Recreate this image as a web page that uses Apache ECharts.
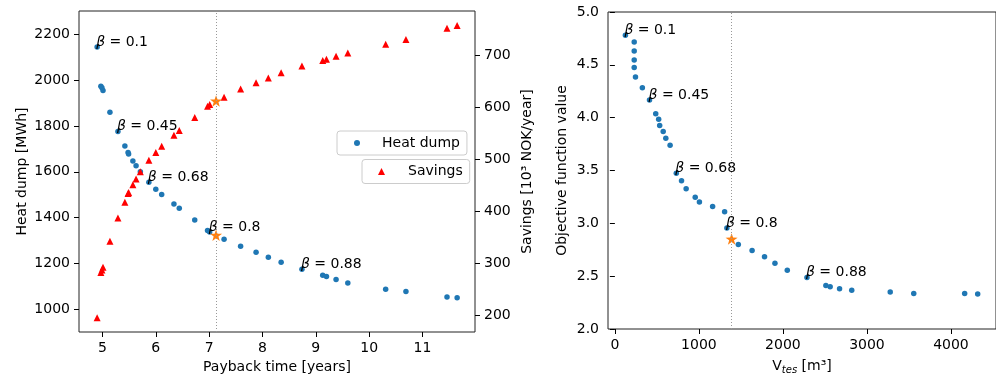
<!DOCTYPE html>
<html>
<head>
<meta charset="utf-8">
<script src="https://cdn.jsdelivr.net/npm/echarts@6/dist/echarts.min.js"></script>
<style>
  html, body { margin: 0; padding: 0; background: #fff; }
  #chart { width: 996px; height: 380px; }
</style>
</head>
<body>
<div id="chart"></div>
<script>
// left plot: payback time vs heat dump / savings
var paybackTime = [4.90, 4.97, 4.99, 5.01, 5.14, 5.29, 5.42, 5.48, 5.49, 5.57, 5.63, 5.71, 5.87, 6.00, 6.11, 6.34, 6.44, 6.73, 6.97, 7.01,
                   7.28, 7.59, 7.88, 8.11, 8.35, 8.74, 9.13, 9.20, 9.38, 9.60, 10.31, 10.69, 11.46, 11.65];
var heatDump = [2144, 1973, 1967, 1955, 1860, 1776, 1713, 1684, 1678, 1647, 1627, 1600, 1555, 1524, 1501, 1460, 1441, 1390, 1344, 1338,
                1306, 1276, 1250, 1228, 1206, 1176, 1149, 1144, 1131, 1116, 1088, 1078, 1055, 1051];
var savings = [196, 283, 288, 293, 343, 388, 418, 435, 437, 452, 463, 477, 499, 514, 526, 547, 556, 581, 603, 606,
               620, 636, 648, 657, 667, 680, 691, 693, 699, 705, 722, 731, 753, 758];
var chosenPayback = 7.13;
var chosenHeat = 1324;
var chosenSavings = 613;

// right plot: tank volume vs objective
var volume = [125, 230, 230, 230, 230, 245, 327, 412, 486, 521, 533, 575, 606, 657, 731, 793, 848, 956, 1006, 1163,
              1306, 1333, 1469, 1633, 1781, 1905, 2052, 2286, 2511, 2562, 2674, 2819, 3277, 3557, 4163, 4318];
var objective = [4.78, 4.715, 4.63, 4.546, 4.475, 4.384, 4.284, 4.168, 4.037, 3.984, 3.925, 3.868, 3.806, 3.740, 3.475, 3.403, 3.327, 3.247, 3.203, 3.159,
                 3.109, 2.956, 2.80, 2.743, 2.684, 2.622, 2.556, 2.487, 2.412, 2.399, 2.381, 2.366, 2.350, 2.337, 2.337, 2.331];
var chosenVolume = 1389;
var chosenObjective = 2.852;

var betaNames = ['0.1', '0.45', '0.68', '0.8', '0.88'];
var betaIdxLeft = [0, 5, 12, 19, 25];
var betaIdxRight = [0, 7, 14, 21, 27];

var xTicksLeft = [5, 6, 7, 8, 9, 10, 11];
var yTicksHeat = [1000, 1200, 1400, 1600, 1800, 2000, 2200];
var yTicksSavings = [200, 300, 400, 500, 600, 700];
var xTicksRight = [0, 1000, 2000, 3000, 4000];

var FONT = 'DejaVu Sans';
var STAR = 'path://M0,-10 L2.35,-3.24 L9.51,-3.09 L3.8,1.24 L5.88,8.09 L0,4 L-5.88,8.09 L-3.8,1.24 L-9.51,-3.09 L-2.35,-3.24 Z';

function pairs(xs, ys, idx) {
    return xs.map(function (x, i) {
        var item = { value: [x, ys[i]] };
        var k = idx ? idx.indexOf(i) : -1;
        if (k >= 0) {
            item.label = {
                show: true,
                formatter: '{b|β} = ' + betaNames[k],
                position: ['50%', '50%'],
                align: 'left',
                verticalAlign: 'middle',
                offset: [-1, -5],
                color: '#000',
                fontSize: 14,
                fontFamily: FONT,
                rich: { b: { fontStyle: 'italic', fontSize: 14, fontFamily: FONT, color: '#000' } }
            };
        }
        return item;
    });
}

function axisBase(min, max, ticks, pos, gridIndex) {
    var ax = {
        type: 'value',
        gridIndex: gridIndex,
        position: pos,
        min: min,
        max: max,
        splitLine: { show: false },
        axisLine: { show: false },
        axisTick: { show: true, inside: false, length: 5, lineStyle: { color: '#000', width: 1 } },
        axisLabel: { color: '#000', fontSize: 14, fontFamily: FONT, margin: 9,
                     formatter: function (v) { return String(v); } },
        nameLocation: 'middle',
        nameTextStyle: { color: '#000', fontSize: 14, fontFamily: FONT }
    };
    if (ticks) {
        ax.axisTick.customValues = ticks;
        ax.axisLabel.customValues = ticks;
    }
    return ax;
}

var xLeft = axisBase(4.56, 11.985, xTicksLeft, 'bottom', 0);
xLeft.name = 'Payback time [years]';
xLeft.nameGap = 28;

var yHeat = axisBase(902, 2301, yTicksHeat, 'left', 0);
yHeat.name = 'Heat dump [MWh]';
yHeat.nameGap = 50;

var ySav = axisBase(168.5, 786, yTicksSavings, 'right', 0);
ySav.name = 'Savings [10³ NOK/year]';
ySav.nameGap = 45;
ySav.nameRotate = 90;

var xRight = axisBase(-82, 4536, xTicksRight, 'bottom', 1);
xRight.name = 'V{s|tes} [m³]';
xRight.nameGap = 28;
xRight.nameTextStyle.rich = { s: { fontSize: 10, fontStyle: 'italic', fontFamily: FONT, color: '#000', padding: [8, 0, 0, 0] } };

var yObj = axisBase(2, 5, null, 'left', 1);
yObj.interval = 0.5;
yObj.axisLabel.formatter = function (v) { return v.toFixed(1); };
yObj.name = 'Objective function value';
yObj.nameGap = 39;

function vline(x) {
    return {
        silent: true,
        symbol: 'none',
        label: { show: false },
        lineStyle: { type: [1, 2], color: '#999', width: 1 },
        data: [{ xAxis: x }]
    };
}

var chart = echarts.init(document.getElementById('chart'));
chart.setOption({
    animation: false,
    backgroundColor: '#fff',
    grid: [
        { left: 79, top: 11, width: 396, height: 321, show: true, borderColor: '#222', borderWidth: 1 },
        { left: 608, top: 12, width: 396, height: 320, show: true, borderColor: '#222', borderWidth: 1 }
    ],
    legend: [
        {
            data: ['Heat dump'], left: 337, top: 131, padding: [5, 7, 5, 17],
            itemWidth: 6, itemHeight: 6,
            borderColor: '#ccc', borderWidth: 1, borderRadius: 3, backgroundColor: 'rgba(255,255,255,0.8)',
            textStyle: { color: '#000', fontSize: 14, fontFamily: FONT, rich: { p: { padding: [0, 0, 0, 17], fontSize: 14, fontFamily: FONT, color: '#000' } } },
            formatter: function (n) { return '{p|' + n + '}'; }
        },
        {
            data: ['Savings'], left: 362, top: 159.5, padding: [5, 7, 5, 16],
            itemWidth: 7, itemHeight: 7,
            borderColor: '#ccc', borderWidth: 1, borderRadius: 3, backgroundColor: 'rgba(255,255,255,0.8)',
            textStyle: { color: '#000', fontSize: 14, fontFamily: FONT, rich: { p: { padding: [0, 0, 0, 18], fontSize: 14, fontFamily: FONT, color: '#000' } } },
            formatter: function (n) { return '{p|' + n + '}'; }
        }
    ],
    xAxis: [xLeft, xRight],
    yAxis: [yHeat, ySav, yObj],
    series: [
        {
            name: 'Heat dump', type: 'scatter', xAxisIndex: 0, yAxisIndex: 0,
            symbol: 'circle', symbolSize: 5.5, itemStyle: { color: '#1f77b4', opacity: 1 },
            data: pairs(paybackTime, heatDump, betaIdxLeft)
        },
        {
            name: 'Savings', type: 'scatter', xAxisIndex: 0, yAxisIndex: 1,
            symbol: 'triangle', symbolSize: 7, itemStyle: { color: '#ff0000', opacity: 1 },
            data: pairs(paybackTime, savings, null)
        },
        {
            name: 'chosen heat', type: 'scatter', xAxisIndex: 0, yAxisIndex: 0,
            symbol: STAR, symbolSize: 12, symbolKeepAspect: true, itemStyle: { color: '#ff7f0e', opacity: 1 },
            data: [[chosenPayback, chosenHeat]],
            markLine: vline(chosenPayback)
        },
        {
            name: 'chosen savings', type: 'scatter', xAxisIndex: 0, yAxisIndex: 1,
            symbol: STAR, symbolSize: 12, symbolKeepAspect: true, itemStyle: { color: '#ff7f0e', opacity: 1 },
            data: [[chosenPayback, chosenSavings]]
        },
        {
            name: 'Objective', type: 'scatter', xAxisIndex: 1, yAxisIndex: 2,
            symbol: 'circle', symbolSize: 5.5, itemStyle: { color: '#1f77b4', opacity: 1 },
            data: pairs(volume, objective, betaIdxRight)
        },
        {
            name: 'chosen objective', type: 'scatter', xAxisIndex: 1, yAxisIndex: 2,
            symbol: STAR, symbolSize: 12, symbolKeepAspect: true, itemStyle: { color: '#ff7f0e', opacity: 1 },
            data: [[chosenVolume, chosenObjective]],
            markLine: vline(chosenVolume)
        }
    ]
});
</script>
</body>
</html>
